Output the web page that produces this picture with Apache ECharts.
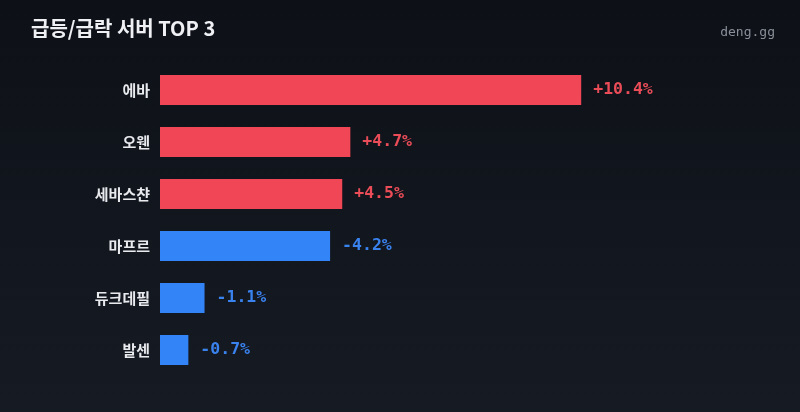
<!DOCTYPE html>
<html>
<head>
<meta charset="utf-8">
<style>
  html, body { margin: 0; padding: 0; }
  #chart { width: 800px; height: 412px; }
</style>
<script src="https://cdn.jsdelivr.net/npm/echarts@6/dist/echarts.min.js"></script>
</head>
<body>
<div id="chart"></div>
<script>
// 서버별 변동률 (%)
const servers = ['에바', '오웬', '세바스챤', '마프르', '듀크데필', '발센']
const changes = [10.4, 4.7, 4.5, -4.2, -1.1, -0.7]

const upColor = '#f04655'
const downColor = '#3384f6'

const chart = echarts.init(document.getElementById('chart'))

const option = {
  backgroundColor: {
    type: 'linear', x: 0, y: 0, x2: 0, y2: 1,
    colorStops: [
      { offset: 0, color: '#0d1017' },
      { offset: 1, color: '#161b23' }
    ]
  },
  title: [
    {
      text: '급등/급락 서버 TOP 3',
      left: 26,
      top: 13,
      textStyle: { color: '#eef0f3', fontSize: 20, fontWeight: 'bold', fontFamily: 'Noto Sans CJK KR' }
    },
    {
      text: 'deng.gg',
      right: 20,
      top: 21,
      textStyle: { color: '#8a9099', fontSize: 13, fontWeight: 'normal', fontFamily: 'DejaVu Sans Mono' }
    }
  ],
  grid: { left: 160, top: 64, width: 607.5, height: 312 },
  xAxis: {
    type: 'value',
    min: 0,
    max: 15,
    show: false
  },
  yAxis: {
    type: 'category',
    inverse: true,
    data: servers,
    axisLine: { show: false },
    axisTick: { show: false },
    splitLine: { show: false },
    axisLabel: {
      color: '#e8eaee',
      fontSize: 15,
      fontWeight: 'bold',
      margin: 10,
      fontFamily: 'Noto Sans CJK KR'
    }
  },
  series: [
    {
      type: 'bar',
      barWidth: 30,
      data: changes.map(v => ({
        value: Math.abs(v),
        itemStyle: { color: v >= 0 ? upColor : downColor },
        label: { color: v >= 0 ? '#ea4d58' : '#3a82ee' }
      })),
      label: {
        show: true,
        position: 'right',
        distance: 12,
        fontSize: 16.5,
        fontWeight: 'bold',
        fontFamily: 'DejaVu Sans Mono',
        formatter: p => {
          const v = changes[p.dataIndex]
          return (v >= 0 ? '+' : '') + v.toFixed(1) + '%'
        }
      }
    }
  ]
}

chart.setOption(option)
</script>
</body>
</html>
